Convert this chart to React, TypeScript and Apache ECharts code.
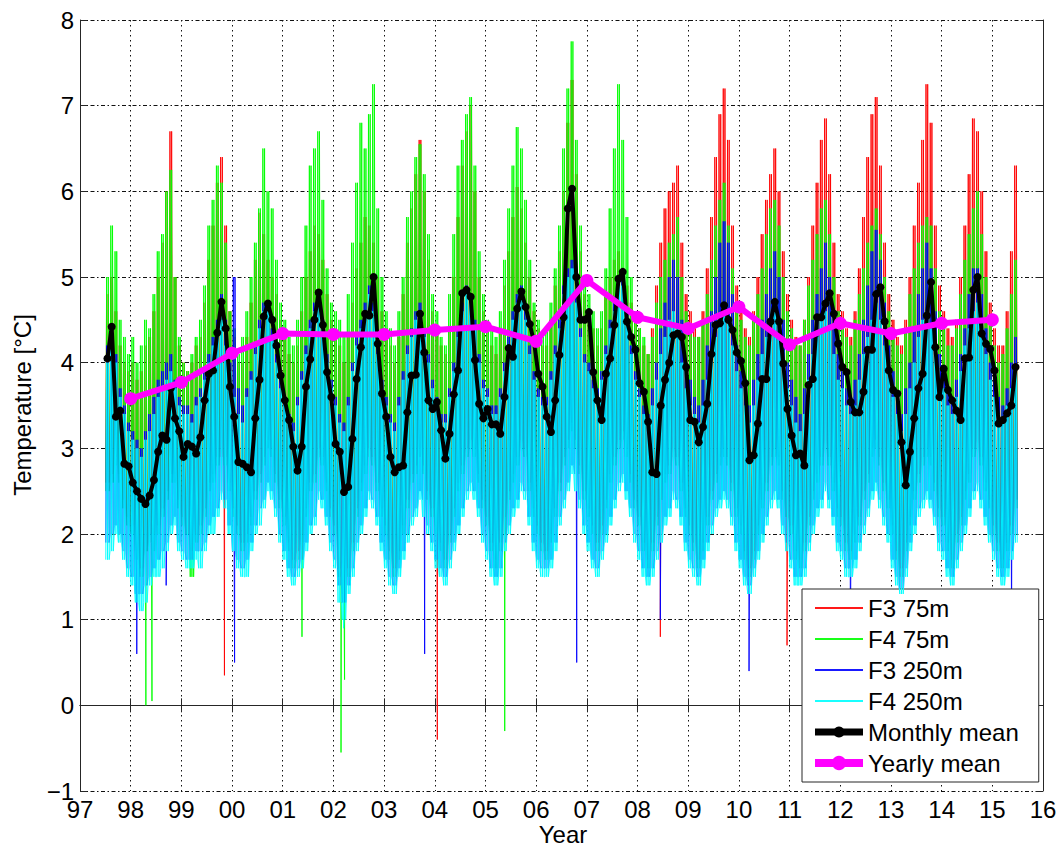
import React, { useEffect, useRef } from "react";
import * as echarts from "echarts";

const FONT = "'Liberation Sans', Arial, Helvetica, sans-serif";

// Monthly series run from Jul 1997 to Jun 2015 (216 months)
const START_YEAR = 1997;
const START_MONTH = 7;

const X_TICKS = { min: 1997, max: 2016, interval: 1 };
const Y_TICKS = { min: -1, max: 8, interval: 1 };

const MONTHLY_MEAN = [
  4.05, 4.42, 3.37, 3.44, 2.82, 2.79,
  2.6, 2.5, 2.41, 2.35, 2.45, 2.63, 2.96, 3.15, 3.1, 3.7, 3.35, 3.2,
  2.9, 3.05, 3.02, 2.94, 3.13, 3.56, 3.87, 3.91, 4.35, 4.71, 4.4, 3.72,
  3.37, 2.84, 2.82, 2.78, 2.72, 3.35, 3.8, 4.54, 4.69, 4.5, 4.2, 3.85,
  3.56, 3.33, 3.02, 2.74, 3.02, 3.72, 4.04, 4.5, 4.82, 4.44, 3.89, 3.6,
  3.05, 2.96, 2.49, 2.55, 3.11, 3.81, 4.18, 4.57, 4.55, 5.0, 4.22, 3.64,
  3.37, 2.9, 2.72, 2.78, 2.8, 3.42, 3.85, 3.86, 4.57, 4.12, 3.56, 3.46,
  3.54, 3.21, 2.88, 3.17, 3.63, 3.91, 4.81, 4.85, 4.77, 4.03, 3.52, 3.35,
  3.46, 3.28, 3.28, 3.17, 3.6, 4.17, 4.07, 4.63, 4.83, 4.65, 4.45, 4.24,
  3.87, 3.72, 3.37, 3.19, 3.56, 4.09, 4.53, 5.8, 6.03, 5.0, 4.5, 4.5,
  4.59, 3.89, 3.56, 3.33, 3.87, 4.05, 4.44, 4.98, 5.06, 4.48, 4.3, 4.15,
  3.76, 3.66, 3.31, 2.72, 2.7, 3.5, 3.8, 4.0, 4.32, 4.34, 4.3, 3.95,
  3.33, 3.31, 3.07, 3.25, 3.52, 4.1, 4.44, 4.46, 4.67, 4.5, 4.38, 4.12,
  4.02, 3.76, 2.86, 2.92, 3.29, 3.81, 3.81, 4.48, 4.71, 4.48, 3.99, 3.46,
  3.15, 2.92, 2.94, 2.8, 3.74, 3.81, 4.53, 4.53, 4.69, 4.81, 4.57, 4.22,
  3.95, 3.89, 3.54, 3.42, 3.42, 3.66, 4.15, 4.15, 4.8, 4.88, 4.48, 3.91,
  3.68, 3.64, 3.07, 2.57, 2.96, 3.35, 3.7, 3.87, 4.55, 4.94, 4.18, 3.6,
  3.93, 3.68, 3.56, 3.44, 3.33, 4.05, 4.06, 4.85, 5.0, 4.34, 4.22, 4.16,
  3.91, 3.29, 3.33, 3.41, 3.5, 3.95,
];

const YEARLY_YEARS = [1998, 1999, 2000, 2001, 2002, 2003, 2004, 2005, 2006, 2007, 2008, 2009, 2010, 2011, 2012, 2013, 2014, 2015];
const YEARLY_MEAN = [3.58, 3.77, 4.11, 4.34, 4.33, 4.33, 4.38, 4.42, 4.25, 4.96, 4.53, 4.4, 4.65, 4.21, 4.46, 4.34, 4.46, 4.5];

// Monthly upper / lower envelopes of the daily records
const F3_75_HI = [
  4.8, 5.0, 4.6, 4.2, 4.0, 3.9,
  4.0, 3.8, 3.9, 4.2, 4.3, 4.6, 5.0, 5.4, 6.0, 6.7, 5.0, 4.2,
  4.0, 3.9, 4.0, 4.2, 4.3, 4.7, 5.2, 5.6, 6.1, 6.4, 5.6, 4.6,
  4.3, 4.0, 4.0, 4.3, 4.7, 5.2, 5.75, 5.5, 5.2, 5.0, 4.8, 4.5,
  4.3, 4.1, 4.0, 4.2, 4.6, 5.0, 5.3, 5.6, 5.5, 5.2, 4.8, 4.5,
  4.3, 4.2, 4.0, 4.3, 4.7, 5.1, 5.4, 5.7, 5.6, 5.4, 5.0, 4.6,
  4.4, 4.2, 4.0, 4.3, 4.8, 5.4, 5.8, 6.2, 6.6, 6.0, 5.2, 4.6,
  4.4, 4.2, 4.1, 4.4, 5.0, 5.7, 6.3, 6.7, 7.0, 6.0, 5.0, 4.6,
  4.4, 4.2, 4.1, 4.4, 4.9, 5.3, 5.7, 6.05, 5.8, 5.4, 5.0, 4.6,
  4.4, 4.2, 4.2, 4.5, 4.9, 5.3, 6.0, 6.8, 7.3, 6.2, 5.3, 4.8,
  4.6, 4.4, 4.2, 4.4, 4.8, 5.0, 5.2, 5.3, 5.1, 4.9, 4.7, 4.5,
  4.4, 4.2, 4.1, 4.4, 4.9, 5.4, 5.8, 6.0, 6.1, 6.3, 5.4, 4.8,
  4.6, 4.4, 4.3, 4.6, 5.1, 5.7, 6.4, 6.9, 7.2, 6.6, 5.6, 4.9,
  4.6, 4.4, 4.3, 4.6, 5.0, 5.5, 5.9, 6.2, 6.5, 6.0, 5.3, 4.8,
  4.5, 4.3, 4.2, 4.5, 5.0, 5.6, 6.1, 6.6, 6.85, 6.2, 5.4, 4.8,
  4.6, 4.4, 4.3, 4.6, 5.1, 5.7, 6.4, 6.9, 7.1, 6.3, 5.4, 4.8,
  4.5, 4.3, 4.2, 4.5, 5.0, 5.6, 6.1, 6.6, 7.25, 6.8, 5.6, 4.9,
  4.6, 4.4, 4.3, 4.5, 5.0, 5.6, 6.2, 6.85, 6.7, 6.0, 5.3, 4.7,
  4.4, 4.2, 4.2, 4.6, 5.3, 6.3,
];
const F3_75_LO = [
  2.6, 2.7, 2.9, 2.7, 2.4, 2.2,
  2.1, 1.8, 1.6, 1.8, 2.0, 2.0, 2.1, 2.3, 2.5, 2.7, 2.7, 2.4,
  2.2, 2.0, 1.8, 2.0, 2.1, 2.3, 2.6, 2.7, 2.9, 2.9, 2.9, 2.6,
  2.3, 2.1, 1.9, 2.0, 2.2, 2.5, 2.7, 2.9, 3.1, 3.0, 2.7, 2.4,
  2.2, 1.9, 1.7, 1.8, 2.0, 2.3, 2.6, 2.7, 3.0, 2.9, 2.6, 2.3,
  2.1, 1.6, 1.4, 1.6, 1.9, 2.3, 2.6, 2.8, 3.0, 2.9, 2.6, 2.3,
  2.1, 1.8, 1.6, 1.8, 2.1, 2.4, 2.7, 2.8, 3.0, 2.8, 2.5, 2.3,
  2.1, 1.9, 1.7, 2.0, 2.3, 2.6, 2.8, 3.0, 3.1, 3.0, 2.7, 2.4,
  2.2, 1.9, 1.7, 1.9, 2.2, 2.5, 2.7, 2.9, 3.1, 3.0, 2.6, 2.3,
  2.1, 1.9, 1.8, 2.0, 2.3, 2.6, 2.9, 3.1, 3.3, 3.1, 2.8, 2.5,
  2.3, 2.1, 1.9, 2.1, 2.4, 2.7, 2.9, 3.1, 3.2, 3.0, 2.7, 2.4,
  2.2, 1.9, 1.7, 1.9, 2.2, 2.4, 2.7, 2.8, 3.0, 2.9, 2.6, 2.3,
  2.1, 1.9, 1.7, 1.9, 2.2, 2.5, 2.7, 2.9, 3.0, 2.9, 2.6, 2.3,
  2.1, 1.8, 1.6, 1.8, 2.1, 2.4, 2.6, 2.9, 3.0, 2.9, 2.5, 2.2,
  2.1, 1.8, 1.7, 1.9, 2.2, 2.5, 2.7, 2.9, 3.1, 2.9, 2.6, 2.3,
  2.2, 1.9, 1.8, 2.0, 2.2, 2.5, 2.7, 3.0, 3.1, 2.9, 2.6, 2.4,
  2.1, 1.8, 1.6, 1.9, 2.2, 2.5, 2.7, 2.9, 3.0, 2.9, 2.6, 2.3,
  2.2, 1.9, 1.7, 2.0, 2.2, 2.5, 2.7, 3.0, 3.1, 2.9, 2.6, 2.4,
  2.1, 1.9, 1.7, 1.9, 2.1, 2.4,
];
const F4_75_HI = [
  5.0, 5.6, 5.3, 4.5, 4.3, 4.1,
  4.3, 4.0, 4.2, 4.5, 4.4, 4.8, 5.3, 5.5, 6.0, 6.25, 5.0, 4.3,
  4.0, 3.9, 4.1, 4.3, 4.5, 4.9, 5.6, 5.9, 6.3, 6.1, 5.4, 4.6,
  4.4, 4.1, 4.3, 4.6, 5.0, 5.4, 5.8, 6.5, 6.0, 5.8, 5.2, 4.7,
  4.5, 4.3, 4.2, 4.5, 5.0, 5.6, 6.3, 6.5, 6.7, 5.9, 5.1, 4.7,
  4.6, 4.5, 4.3, 4.8, 5.4, 6.1, 6.8, 6.5, 6.9, 7.25, 5.8, 5.0,
  4.6, 4.4, 4.2, 4.6, 5.0, 5.7, 6.0, 6.4, 6.55, 6.2, 5.5, 4.8,
  4.6, 4.3, 4.2, 4.8, 5.5, 6.3, 6.6, 6.9, 7.1, 6.3, 5.3, 4.8,
  4.5, 4.4, 4.3, 4.6, 5.2, 5.8, 6.3, 6.75, 6.5, 5.9, 5.2, 4.7,
  4.5, 4.3, 4.4, 4.7, 5.1, 5.6, 6.5, 7.2, 7.75, 6.6, 5.6, 5.0,
  4.8, 4.6, 4.4, 4.6, 5.1, 5.8, 6.5, 7.25, 6.6, 5.7, 5.0, 4.6,
  4.4, 4.3, 4.1, 4.3, 4.7, 5.0, 5.2, 5.4, 5.5, 5.7, 5.0, 4.6,
  4.4, 4.3, 4.3, 4.5, 4.8, 5.2, 5.6, 5.9, 6.1, 5.6, 5.1, 4.7,
  4.5, 4.3, 4.2, 4.5, 4.8, 5.1, 5.5, 5.8, 5.9, 5.6, 5.0, 4.6,
  4.4, 4.2, 4.2, 4.5, 4.9, 5.2, 5.5, 5.8, 5.9, 5.5, 5.0, 4.6,
  4.5, 4.3, 4.2, 4.5, 4.8, 5.1, 5.4, 5.6, 5.8, 5.5, 5.0, 4.6,
  4.4, 4.2, 4.1, 4.4, 4.8, 5.1, 5.4, 5.6, 5.7, 5.6, 5.1, 4.6,
  4.4, 4.2, 4.2, 4.4, 4.8, 5.2, 5.5, 5.8, 6.0, 5.5, 5.0, 4.5,
  4.2, 4.0, 4.1, 4.4, 4.8, 5.2,
];
const F4_75_LO = [
  2.5, 2.6, 2.8, 2.6, 2.3, 2.1,
  2.0, 1.7, 1.5, 1.8, 1.9, 1.8, 2.0, 2.2, 2.4, 2.6, 2.6, 2.3,
  2.1, 2.0, 1.5, 1.9, 2.0, 2.2, 2.5, 2.6, 2.8, 3.0, 2.8, 2.5,
  2.2, 2.0, 1.8, 1.9, 2.1, 2.4, 2.6, 2.8, 3.0, 2.9, 2.6, 2.3,
  2.1, 1.8, 1.6, 1.7, 1.9, 2.2, 2.5, 2.6, 2.9, 2.8, 2.5, 2.2,
  2.0, 1.5, 1.3, 1.5, 1.8, 2.2, 2.5, 2.7, 2.9, 2.8, 2.5, 2.2,
  2.0, 1.7, 1.5, 1.7, 2.0, 2.3, 2.6, 2.7, 2.9, 2.7, 2.4, 2.2,
  2.0, 1.8, 1.6, 1.9, 2.2, 2.5, 2.7, 2.9, 3.0, 2.9, 2.6, 2.3,
  2.1, 1.8, 1.6, 1.8, 2.0, 2.4, 2.6, 2.8, 3.0, 2.9, 2.5, 2.2,
  2.0, 1.8, 1.7, 1.9, 2.2, 2.5, 2.8, 3.0, 3.2, 3.0, 2.7, 2.4,
  2.2, 2.0, 1.8, 2.0, 2.3, 2.6, 2.8, 3.0, 3.1, 2.9, 2.6, 2.3,
  2.1, 1.8, 1.6, 1.8, 2.1, 2.4, 2.6, 2.7, 2.9, 2.8, 2.5, 2.2,
  2.0, 1.8, 1.6, 1.8, 2.1, 2.4, 2.6, 2.8, 2.9, 2.8, 2.5, 2.2,
  2.0, 1.7, 1.5, 1.7, 2.0, 2.3, 2.5, 2.8, 2.9, 2.8, 2.4, 2.2,
  2.0, 1.7, 1.6, 1.8, 2.1, 2.4, 2.6, 2.8, 3.0, 2.8, 2.5, 2.2,
  2.1, 1.8, 1.7, 1.9, 2.1, 2.4, 2.6, 2.9, 3.0, 2.8, 2.5, 2.3,
  2.0, 1.7, 1.5, 1.8, 2.1, 2.4, 2.6, 2.8, 2.9, 2.8, 2.5, 2.2,
  2.1, 1.8, 1.6, 1.9, 2.1, 2.4, 2.6, 2.9, 3.0, 2.8, 2.5, 2.3,
  2.0, 1.8, 1.6, 1.8, 2.0, 2.3,
];
const F3_250_HI = [
  4.2, 4.4, 4.1, 3.7, 3.5, 3.3,
  3.2, 3.1, 3.0, 3.2, 3.4, 3.6, 3.8, 3.9, 4.0, 4.1, 3.8, 3.6,
  3.5, 3.5, 3.4, 3.6, 3.7, 3.9, 4.1, 4.3, 4.5, 4.8, 4.5, 4.0,
  5.0, 3.7, 3.5, 3.7, 3.9, 4.2, 4.5, 4.7, 4.7, 4.4, 4.1, 3.8,
  3.6, 3.4, 3.3, 3.6, 3.9, 4.2, 4.5, 4.7, 4.8, 4.5, 4.1, 3.8,
  3.6, 3.4, 3.3, 3.6, 4.0, 4.3, 4.5, 4.7, 4.9, 4.7, 4.2, 3.8,
  3.6, 3.4, 3.3, 3.6, 3.9, 4.2, 4.4, 4.6, 4.7, 4.4, 4.1, 3.8,
  3.6, 3.4, 3.4, 3.7, 4.0, 4.4, 4.7, 4.9, 4.8, 4.5, 4.1, 3.8,
  3.7, 3.5, 3.5, 3.7, 4.0, 4.3, 4.6, 4.8, 4.9, 4.6, 4.2, 3.9,
  3.7, 3.6, 3.6, 3.9, 4.2, 4.5, 4.9, 5.1, 5.2, 4.8, 4.4, 4.1,
  4.0, 3.8, 3.7, 3.9, 4.2, 4.5, 4.7, 5.0, 5.0, 4.6, 4.2, 3.9,
  3.7, 3.5, 3.4, 3.7, 4.0, 4.4, 4.7, 5.0, 5.2, 5.0, 4.5, 4.0,
  3.8, 3.6, 3.5, 3.8, 4.2, 4.6, 5.0, 5.4, 5.65, 5.4, 4.8, 4.2,
  3.9, 3.7, 3.5, 3.8, 4.1, 4.5, 4.8, 5.1, 5.3, 5.0, 4.5, 4.0,
  3.8, 3.6, 3.4, 3.7, 4.1, 4.5, 4.8, 5.1, 5.4, 5.0, 4.6, 4.1,
  3.9, 3.7, 3.6, 3.8, 4.1, 4.5, 4.9, 5.3, 5.55, 5.2, 4.7, 4.2,
  3.9, 3.6, 3.4, 3.7, 4.0, 4.4, 4.8, 5.1, 5.4, 5.1, 4.6, 4.1,
  3.9, 3.7, 3.6, 3.8, 4.1, 4.4, 4.8, 5.1, 5.1, 4.8, 4.4, 4.0,
  3.8, 3.6, 3.5, 3.7, 4.0, 4.3,
];
const F3_250_LO = [
  1.9, 2.0, 2.1, 2.0, 1.8, 1.6,
  1.5, 1.3, 1.3, 1.4, 1.5, 1.6, 1.7, 1.8, 1.9, 2.1, 2.2, 1.9,
  1.8, 1.7, 1.7, 1.8, 1.8, 1.9, 2.1, 2.2, 2.3, 2.5, 2.4, 2.1,
  1.8, 1.7, 1.6, 1.7, 1.9, 2.1, 2.3, 2.4, 2.6, 2.5, 2.3, 2.0,
  1.8, 1.6, 1.5, 1.6, 1.7, 1.9, 2.1, 2.2, 2.5, 2.4, 2.2, 1.9,
  1.7, 1.4, 1.2, 1.4, 1.6, 1.9, 2.1, 2.3, 2.5, 2.4, 2.2, 1.9,
  1.7, 1.5, 1.4, 1.6, 1.8, 2.0, 2.2, 2.3, 2.5, 2.4, 2.1, 1.9,
  1.7, 1.6, 1.5, 1.7, 1.9, 2.1, 2.3, 2.5, 2.6, 2.5, 2.3, 2.0,
  1.8, 1.6, 1.5, 1.6, 1.9, 2.1, 2.3, 2.4, 2.6, 2.5, 2.2, 1.9,
  1.7, 1.6, 1.6, 1.7, 1.9, 2.2, 2.4, 2.6, 2.8, 2.7, 2.4, 2.1,
  1.9, 1.7, 1.6, 1.8, 2.0, 2.2, 2.4, 2.6, 2.7, 2.5, 2.3, 2.0,
  1.8, 1.6, 1.5, 1.6, 1.8, 2.0, 2.2, 2.3, 2.5, 2.4, 2.2, 1.9,
  1.7, 1.6, 1.5, 1.7, 1.9, 2.1, 2.3, 2.4, 2.5, 2.4, 2.2, 1.9,
  1.7, 1.5, 1.4, 1.6, 1.8, 2.0, 2.2, 2.4, 2.5, 2.4, 2.1, 1.9,
  1.7, 1.5, 1.5, 1.6, 1.9, 2.1, 2.3, 2.4, 2.6, 2.4, 2.2, 1.9,
  1.8, 1.6, 1.6, 1.7, 1.9, 2.1, 2.3, 2.5, 2.6, 2.4, 2.2, 2.0,
  1.7, 1.5, 1.2, 1.6, 1.9, 2.1, 2.3, 2.4, 2.5, 2.4, 2.2, 1.9,
  1.8, 1.6, 1.5, 1.7, 1.9, 2.1, 2.3, 2.5, 2.6, 2.4, 2.2, 2.0,
  1.8, 1.6, 1.5, 1.6, 1.8, 2.0,
];
const F4_250_HI = [
  4.0, 4.2, 4.0, 3.6, 3.4, 3.2,
  3.1, 3.0, 2.9, 3.1, 3.2, 3.4, 3.6, 3.7, 3.8, 3.9, 3.7, 3.5,
  3.4, 3.4, 3.3, 3.5, 3.6, 3.8, 4.0, 4.2, 4.4, 4.5, 4.2, 3.9,
  3.6, 3.4, 3.3, 3.6, 3.8, 4.1, 4.4, 4.6, 4.6, 4.3, 4.0, 3.7,
  3.5, 3.3, 3.2, 3.5, 3.8, 4.1, 4.4, 4.6, 4.7, 4.4, 4.0, 3.7,
  3.5, 3.3, 3.2, 3.5, 3.9, 4.2, 4.4, 4.6, 4.8, 4.6, 4.1, 3.7,
  3.5, 3.3, 3.2, 3.5, 3.8, 4.1, 4.3, 4.5, 4.6, 4.3, 4.0, 3.7,
  3.5, 3.3, 3.3, 3.6, 3.9, 4.3, 4.6, 4.8, 4.7, 4.4, 4.0, 3.7,
  3.6, 3.4, 3.4, 3.6, 3.9, 4.2, 4.5, 4.7, 4.8, 4.5, 4.1, 3.8,
  3.6, 3.5, 3.5, 3.8, 4.1, 4.4, 4.8, 5.0, 5.1, 4.7, 4.3, 4.0,
  3.9, 3.7, 3.6, 3.8, 4.1, 4.4, 4.6, 4.9, 4.9, 4.5, 4.1, 3.8,
  3.6, 3.4, 3.3, 3.5, 3.8, 4.1, 4.3, 4.5, 4.6, 4.4, 4.0, 3.7,
  3.5, 3.4, 3.3, 3.5, 3.8, 4.1, 4.3, 4.5, 4.6, 4.5, 4.2, 3.9,
  3.7, 3.5, 3.3, 3.5, 3.8, 4.1, 4.3, 4.5, 4.6, 4.3, 4.0, 3.7,
  3.5, 3.3, 3.2, 3.4, 3.8, 4.1, 4.3, 4.5, 4.6, 4.4, 4.1, 3.8,
  3.7, 3.5, 3.4, 3.5, 3.8, 4.1, 4.3, 4.5, 4.7, 4.5, 4.2, 3.9,
  3.6, 3.4, 3.2, 3.4, 3.7, 4.0, 4.3, 4.5, 4.6, 4.4, 4.1, 3.8,
  3.7, 3.5, 3.4, 3.6, 3.9, 4.2, 4.4, 4.6, 4.7, 4.4, 4.1, 3.8,
  3.6, 3.4, 3.3, 3.5, 3.7, 3.9,
];
const F4_250_LO = [
  1.7, 1.8, 2.0, 1.9, 1.7, 1.5,
  1.4, 1.2, 1.1, 1.2, 1.4, 1.5, 1.5, 1.6, 1.8, 2.0, 2.1, 1.8,
  1.7, 1.6, 1.6, 1.7, 1.6, 1.8, 2.0, 2.0, 2.2, 2.4, 2.3, 2.0,
  1.8, 1.6, 1.5, 1.5, 1.8, 2.0, 2.1, 2.3, 2.5, 2.4, 2.2, 1.9,
  1.7, 1.5, 1.4, 1.5, 1.6, 1.8, 2.0, 2.1, 2.4, 2.3, 2.1, 1.8,
  1.6, 1.2, 1.0, 1.3, 1.5, 1.8, 2.0, 2.2, 2.4, 2.3, 2.1, 1.8,
  1.6, 1.4, 1.3, 1.5, 1.7, 1.9, 2.1, 2.2, 2.4, 2.2, 2.0, 1.8,
  1.6, 1.5, 1.4, 1.6, 1.8, 2.0, 2.2, 2.4, 2.5, 2.4, 2.2, 1.9,
  1.7, 1.5, 1.4, 1.5, 1.8, 2.0, 2.2, 2.3, 2.5, 2.4, 2.1, 1.8,
  1.6, 1.5, 1.5, 1.6, 1.8, 2.1, 2.3, 2.5, 2.7, 2.5, 2.3, 2.0,
  1.8, 1.6, 1.5, 1.7, 1.9, 2.1, 2.3, 2.5, 2.6, 2.4, 2.2, 1.9,
  1.7, 1.5, 1.4, 1.5, 1.7, 1.9, 2.1, 2.2, 2.4, 2.3, 2.1, 1.8,
  1.6, 1.5, 1.4, 1.6, 1.8, 2.0, 2.2, 2.3, 2.4, 2.3, 2.1, 1.8,
  1.6, 1.4, 1.3, 1.5, 1.7, 1.9, 2.1, 2.3, 2.4, 2.3, 2.0, 1.8,
  1.6, 1.4, 1.4, 1.5, 1.8, 2.0, 2.2, 2.3, 2.5, 2.3, 2.1, 1.8,
  1.7, 1.5, 1.5, 1.6, 1.8, 2.0, 2.2, 2.4, 2.5, 2.3, 2.1, 1.9,
  1.6, 1.4, 1.3, 1.5, 1.8, 2.0, 2.2, 2.3, 2.4, 2.3, 2.1, 1.8,
  1.7, 1.5, 1.4, 1.6, 1.8, 2.0, 2.2, 2.4, 2.5, 2.3, 2.1, 1.9,
  1.7, 1.5, 1.4, 1.5, 1.7, 1.9,
];

// isolated single-day dips below the usual envelope: [decimal year, value]
const F3_75_DIPS = [[1999.85, 0.35], [2004.05, -0.4], [2008.45, 0.8], [2010.95, 0.7]];
const F4_75_DIPS = [[1998.3, 0.0], [1998.42, 0.05], [2001.38, 0.8], [2002.15, -0.55], [2002.22, 0.3], [2005.38, -0.3]];
const F3_250_DIPS = [[1998.12, 0.6], [1998.7, 1.4], [2000.05, 0.5], [2003.8, 0.6], [2006.8, 0.5], [2008.45, 1.0], [2010.2, 0.4], [2012.2, 0.6], [2015.38, 0.8]];
const F4_250_DIPS = [[2002.2, 0.9]];

const monthTime = (k: number) => START_YEAR + (START_MONTH - 1 + k + 0.5) / 12;

// each month drawn as dense spikes running between its upper and lower value
const SPIKE_OFFSETS = [-0.4, -0.2, 0, 0.2, 0.4];
const band = (hi: number[], lo: number[], dips: number[][]) => {
  const pts: number[][] = [];
  const n = Math.min(hi.length, lo.length);
  for (let k = 0; k < n; k++) {
    const t = monthTime(k);
    SPIKE_OFFSETS.forEach((o, i) => {
      pts.push([t + o / 12, i % 2 === 0 ? lo[k] : hi[k]]);
    });
  }
  dips.forEach((d) => pts.push([d[0], d[1]]));
  pts.sort((a, b) => a[0] - b[0]);
  return pts;
};

const noisy = (name: string, color: string, hi: number[], lo: number[], dips: number[][], z: number) => ({
  name,
  type: "line",
  data: band(hi, lo, dips),
  symbol: "none",
  silent: true,
  z,
  lineStyle: { color, width: 1, opacity: 0.9 },
  itemStyle: { color },
  emphasis: { disabled: true },
});

export default function App() {
  const ref = useRef<HTMLDivElement>(null);
  useEffect(() => {
    const chart = echarts.init(ref.current!, null, { renderer: "svg" });
    const axisColor = "#262626";
    const xLabel = (v: number) => String(v).slice(2);
    const yLabel = (v: number) => String(v).replace("-", "\u2212");
    chart.setOption({
      animation: false,
      backgroundColor: "#fff",
      grid: { left: 80, right: 18, top: 20, bottom: 57, containLabel: false },
      xAxis: [
        {
          type: "value",
          ...X_TICKS,
          position: "bottom",
          axisLine: { show: true, lineStyle: { color: axisColor, width: 1 } },
          axisTick: { show: true, inside: true, length: 7, lineStyle: { color: axisColor } },
          axisLabel: { formatter: xLabel, fontSize: 24, color: "#000", fontFamily: FONT, margin: 6 },
          splitLine: { show: true, lineStyle: { color: "#111", width: 1, type: [1.5, 3.5] } },
        },
        {
          type: "value",
          ...X_TICKS,
          position: "top",
          axisLine: { show: true, lineStyle: { color: axisColor, width: 1 } },
          axisTick: { show: true, inside: true, length: 7, lineStyle: { color: axisColor } },
          axisLabel: { show: false },
          splitLine: { show: false },
        },
      ],
      yAxis: [
        {
          type: "value",
          ...Y_TICKS,
          position: "left",
          axisLine: { show: true, lineStyle: { color: axisColor, width: 1 } },
          axisTick: { show: true, inside: true, length: 7, lineStyle: { color: axisColor } },
          axisLabel: { formatter: yLabel, fontSize: 24, color: "#000", fontFamily: FONT, margin: 6 },
          splitLine: { show: true, lineStyle: { color: "#111", width: 1, type: [4, 2.5, 1.5, 2.5] } },
        },
        {
          type: "value",
          ...Y_TICKS,
          position: "right",
          axisLine: { show: true, lineStyle: { color: axisColor, width: 1 } },
          axisTick: { show: true, inside: true, length: 7, lineStyle: { color: axisColor } },
          axisLabel: { show: false },
          splitLine: { show: false },
        },
      ],
      legend: {
        orient: "vertical",
        left: 802,
        top: 589,
        padding: [7, 20, 7, 9],
        itemGap: 7,
        itemWidth: 48,
        itemHeight: 14,
        backgroundColor: "#fff",
        borderColor: axisColor,
        borderWidth: 1,
        borderRadius: 0,
        selectedMode: false,
        textStyle: { fontSize: 24, color: "#000", fontFamily: FONT, lineHeight: 24 },
        data: [
          { name: "F3 75m", itemStyle: { opacity: 0 } },
          { name: "F4 75m", itemStyle: { opacity: 0 } },
          { name: "F3 250m", itemStyle: { opacity: 0 } },
          { name: "F4 250m", itemStyle: { opacity: 0 } },
          { name: "Monthly mean", lineStyle: { width: 7 } },
          { name: "Yearly mean", lineStyle: { width: 8 }, itemStyle: { borderWidth: 3, borderColor: "#ff00ff" } },
        ],
      },
      graphic: [
        {
          type: "text",
          x: 22,
          y: 405,
          rotation: Math.PI / 2,
          style: {
            text: "Temperature [°C]",
            fontSize: 24,
            fontFamily: FONT,
            fill: "#000",
            align: "center",
            verticalAlign: "middle",
            textAlign: "center",
            textVerticalAlign: "middle",
          },
        },
        {
          type: "text",
          x: 563,
          y: 834,
          style: {
            text: "Year",
            fontSize: 24,
            fontFamily: FONT,
            fill: "#000",
            align: "center",
            verticalAlign: "middle",
            textAlign: "center",
            textVerticalAlign: "middle",
          },
        },
      ],
      series: [
        noisy("F3 75m", "#ff0000", F3_75_HI, F3_75_LO, F3_75_DIPS, 1),
        noisy("F4 75m", "#00ff00", F4_75_HI, F4_75_LO, F4_75_DIPS, 2),
        noisy("F3 250m", "#0000ff", F3_250_HI, F3_250_LO, F3_250_DIPS, 3),
        noisy("F4 250m", "#00ffff", F4_250_HI, F4_250_LO, F4_250_DIPS, 4),
        {
          name: "Monthly mean",
          type: "line",
          data: MONTHLY_MEAN.map((v, k) => [monthTime(k), v]),
          symbol: "circle",
          symbolSize: 8,
          z: 5,
          lineStyle: { color: "#000", width: 4 },
          itemStyle: { color: "#000" },
          emphasis: { disabled: true },
        },
        {
          name: "Yearly mean",
          type: "line",
          data: YEARLY_YEARS.map((y, i) => [y, YEARLY_MEAN[i]]),
          symbol: "circle",
          symbolSize: 13,
          z: 6,
          lineStyle: { color: "#ff00ff", width: 6 },
          itemStyle: { color: "#ff00ff" },
          emphasis: { disabled: true },
        },
      ],
    });
    return () => chart.dispose();
  }, []);
  return (
    <div
      ref={ref}
      style={{ position: "fixed", left: 0, top: 0, width: 1061, height: 848, background: "#fff" }}
    />
  );
}
